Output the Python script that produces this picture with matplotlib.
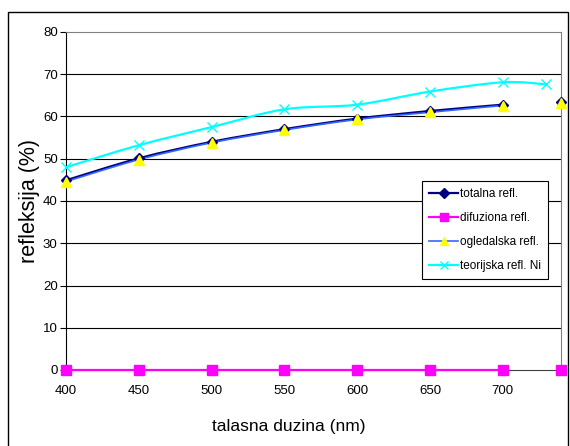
import numpy as np
import matplotlib
matplotlib.use('Agg')
from matplotlib import pyplot as plt
from matplotlib.path import Path
from matplotlib.patches import PathPatch, Rectangle
from matplotlib.lines import Line2D

plt.rcParams['font.family'] = ['Liberation Sans', 'DejaVu Sans']

# measured series (the point at 740 nm is not joined to the rest)
wl_meas = [400, 450, 500, 550, 600, 650, 700, 740]
totalna = [44.9, 50.1, 54.0, 57.0, 59.5, 61.3, 62.8, 63.4]
difuziona = [0, 0, 0, 0, 0, 0, 0, 0]
ogledalska = [44.6, 49.8, 53.8, 56.8, 59.3, 61.0, 62.6, 63.2]

# theoretical Ni reflectance
wl_teor = [400, 450, 500, 550, 600, 650, 700, 730]
teorijska = [48.0, 53.2, 57.5, 61.7, 62.8, 65.9, 68.1, 67.6]

x_ticks = [400, 450, 500, 550, 600, 650, 700]
y_ticks = [0, 10, 20, 30, 40, 50, 60, 70, 80]
labels = ['totalna refl.', 'difuziona refl.', 'ogledalska refl.', 'teorijska refl. Ni']


def smooth_path(pts):
    """excel-like smoothed line as cubic bezier path (catmull-rom control points)"""
    pts = np.asarray(pts, dtype=float)
    verts, codes = [pts[0]], [Path.MOVETO]
    n = len(pts)
    for i in range(n - 1):
        p0 = pts[i - 1] if i > 0 else pts[i]
        p1, p2 = pts[i], pts[i + 1]
        p3 = pts[i + 2] if i + 2 < n else pts[i + 1]
        c1 = p1 + (p2 - p0) / 6.0
        c2 = p2 - (p3 - p1) / 6.0
        verts += [c1, c2, p2]
        codes += [Path.CURVE4] * 3
    return Path(verts, codes)


def draw_series(ax, x, y, color, lw, marker, mfc, mec, ms, joined=None):
    # only the first `joined` points are connected by the line
    n = len(x) if joined is None else joined
    pts = list(zip(x[:n], y[:n]))
    ax.add_patch(PathPatch(smooth_path(pts), fill=False, edgecolor=color,
                           lw=lw, zorder=3, clip_on=False))
    ax.plot(x, y, ls='none', marker=marker, mfc=mfc, mec=mec, ms=ms,
            zorder=4, clip_on=False)


fig = plt.figure(figsize=(5.7, 4.46), dpi=100)
fig.patches.append(Rectangle((8 / 570, -0.01), 560 / 570, 1 - 12 / 446 + 0.01,
                             transform=fig.transFigure, fill=False,
                             edgecolor='black', lw=1))
ax = fig.add_axes([66 / 570, 1 - 370 / 446, 495 / 570, 338 / 446])

ax.set_xlim(400, 740)
ax.set_ylim(0, 80)
ax.set_xticks(x_ticks)
ax.set_yticks(y_ticks)
ax.tick_params(axis='x', length=0, pad=11, labelsize=9.5)
ax.tick_params(axis='y', length=4, width=0.8, pad=2, labelsize=9.5)
for v in y_ticks[1:-1]:
    ax.axhline(v, color='black', lw=0.8, zorder=1)
ax.spines['top'].set_color('#808080')
ax.spines['right'].set_color('#808080')
ax.spines['left'].set_color('black')
ax.spines['bottom'].set_color('#404040')

draw_series(ax, wl_meas, totalna, '#000080', 1.6, 'D', '#000080', '#000080', 5, joined=7)
draw_series(ax, wl_meas, difuziona, '#FF00FF', 1.6, 's', '#FF00FF', '#FF00FF', 7, joined=7)
draw_series(ax, wl_meas, ogledalska, '#3366FF', 1.2, '^', '#FFFF00', '#FFFF00', 7, joined=7)
draw_series(ax, wl_teor, teorijska, '#00FFFF', 1.6, 'x', '#00FFFF', '#00FFFF', 7)

ax.set_xlabel('talasna duzina (nm)', fontsize=12.5)
ax.xaxis.set_label_coords(0.45, -0.145)
ax.set_ylabel('refleksija (%)', fontsize=15.5, labelpad=2)

handles = [
    Line2D([], [], color='#000080', lw=1.6, marker='D', mfc='#000080', mec='#000080', ms=5),
    Line2D([], [], color='#FF00FF', lw=1.6, marker='s', mfc='#FF00FF', mec='#FF00FF', ms=6),
    Line2D([], [], color='#3366FF', lw=1.2, marker='^', mfc='#FFFF00', mec='#FFFF00', ms=6),
    Line2D([], [], color='#00FFFF', lw=1.6, marker='x', mfc='#00FFFF', mec='#00FFFF', ms=6),
]
leg = ax.legend(handles, labels, loc='lower right', bbox_to_anchor=(0.974, 0.27),
                fontsize=8.5, frameon=True, fancybox=False, edgecolor='black',
                framealpha=1, borderpad=0.6, labelspacing=1.0, handlelength=2.4,
                handletextpad=0.2, borderaxespad=0)
leg.get_frame().set_linewidth(0.8)

fig.savefig('out.png', dpi=100)
